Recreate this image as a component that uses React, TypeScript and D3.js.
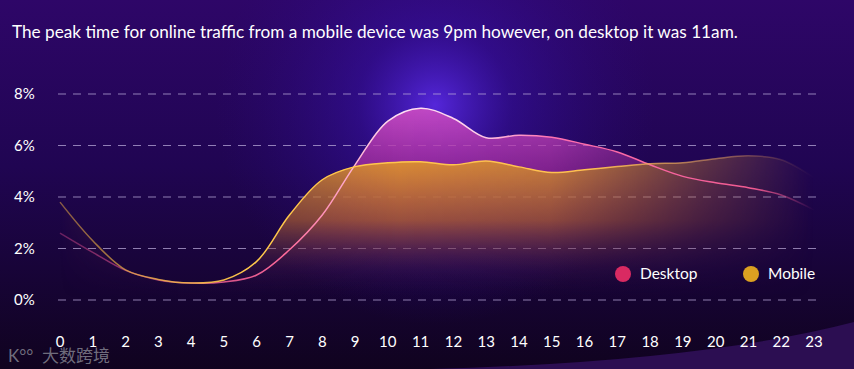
import React from 'react';
import * as d3 from 'd3';

// hours 0..23
const hours = d3.range(0, 24);
const desktop = [2.6, 1.85, 1.15, 0.78, 0.66, 0.7, 0.97, 1.95, 3.3, 5.25, 6.95, 7.45, 7.05, 6.3, 6.4, 6.32, 6.05, 5.75, 5.25, 4.8, 4.55, 4.36, 4.08, 3.5];
const mobile = [3.8, 2.3, 1.17, 0.8, 0.66, 0.78, 1.5, 3.3, 4.67, 5.18, 5.33, 5.37, 5.25, 5.4, 5.17, 4.95, 5.06, 5.18, 5.29, 5.33, 5.49, 5.6, 5.45, 4.75];
const yTicks = [0, 2, 4, 6, 8];
const title = 'The peak time for online traffic from a mobile device was 9pm however, on desktop it was 11am.';
const legendItems = [
  { name: 'Desktop', color: '#d92a62' },
  { name: 'Mobile', color: '#dba021' },
];

const W = 854;
const H = 369;
const FONT = 'Lato, "Open Sans", sans-serif';

const App: React.FC = () => {
  const x = d3.scaleLinear().domain([0, 23]).range([60, 814]);
  const y = d3.scaleLinear().domain([0, 8]).range([300, 94]);

  const curve = d3.curveCatmullRom.alpha(0.5);
  const line = d3.line<number>().x((_, i) => x(hours[i])).y(d => y(d)).curve(curve);
  const area = d3.area<number>().x((_, i) => x(hours[i])).y0(y(-0.6)).y1(d => y(d)).curve(curve);

  return (
    <svg width={W} height={H} style={{ display: 'block' }}>
      <style>{`body{margin:0}`}</style>
      <defs>
        <linearGradient id="bg" x1="0" x2="0" y1="0" y2="1">
          <stop offset="0%" stopColor="#2e0668" />
          <stop offset="45%" stopColor="#200552" />
          <stop offset="100%" stopColor="#10031f" />
        </linearGradient>
        <radialGradient id="glow" cx="435" cy="105" r="220" gradientUnits="userSpaceOnUse">
          <stop offset="0%" stopColor="#5a2ae8" stopOpacity={0.9} />
          <stop offset="35%" stopColor="#3a14b8" stopOpacity={0.45} />
          <stop offset="100%" stopColor="#2a0a80" stopOpacity={0} />
        </radialGradient>
        <linearGradient id="deskFill" x1="0" x2="0" y1="100" y2="300" gradientUnits="userSpaceOnUse">
          <stop offset="0%" stopColor="#d050c8" stopOpacity={0.95} />
          <stop offset="40%" stopColor="#a02898" stopOpacity={0.75} />
          <stop offset="85%" stopColor="#3a0a50" stopOpacity={0.1} />
          <stop offset="100%" stopColor="#200540" stopOpacity={0} />
        </linearGradient>
        <linearGradient id="mobFill" x1="0" x2="0" y1="155" y2="300" gradientUnits="userSpaceOnUse">
          <stop offset="0%" stopColor="#e2962e" stopOpacity={0.97} />
          <stop offset="45%" stopColor="#b4642e" stopOpacity={0.75} />
          <stop offset="80%" stopColor="#502050" stopOpacity={0.25} />
          <stop offset="100%" stopColor="#200540" stopOpacity={0} />
        </linearGradient>
        <linearGradient id="hFade" x1="60" x2="814" y1="0" y2="0" gradientUnits="userSpaceOnUse">
          <stop offset="0%" stopColor="#fff" stopOpacity={0} />
          <stop offset="25%" stopColor="#fff" stopOpacity={0.8} />
          <stop offset="45%" stopColor="#fff" stopOpacity={1} />
          <stop offset="65%" stopColor="#fff" stopOpacity={0.9} />
          <stop offset="85%" stopColor="#fff" stopOpacity={0.35} />
          <stop offset="100%" stopColor="#fff" stopOpacity={0} />
        </linearGradient>
        <mask id="areaMask">
          <rect x={0} y={0} width={W} height={H} fill="url(#hFade)" />
        </mask>
        <linearGradient id="deskStroke" x1="60" x2="814" y1="0" y2="0" gradientUnits="userSpaceOnUse">
          <stop offset="0%" stopColor="#e04a90" stopOpacity={0.4} />
          <stop offset="30%" stopColor="#ff6a9a" />
          <stop offset="45%" stopColor="#ffe0f4" />
          <stop offset="55%" stopColor="#ffd0ea" />
          <stop offset="65%" stopColor="#ff70b0" />
          <stop offset="92%" stopColor="#f05a90" />
          <stop offset="100%" stopColor="#e04a90" stopOpacity={0} />
        </linearGradient>
        <linearGradient id="mobStroke" x1="60" x2="814" y1="0" y2="0" gradientUnits="userSpaceOnUse">
          <stop offset="0%" stopColor="#f0b040" stopOpacity={0.5} />
          <stop offset="25%" stopColor="#ffc84a" />
          <stop offset="70%" stopColor="#ffc050" />
          <stop offset="88%" stopColor="#d09060" stopOpacity={0.6} />
          <stop offset="100%" stopColor="#b07060" stopOpacity={0} />
        </linearGradient>
      </defs>

      {/* background */}
      <rect x={0} y={0} width={W} height={H} fill="url(#bg)" />
      <rect x={0} y={0} width={W} height={H} fill="url(#glow)" />
      <path d="M 430 369 Q 700 362 854 322 L 854 369 Z" fill="#2c0e52" />

      <text x={12} y={38} fill="#ffffff" fontFamily={FONT} fontSize={17.2}>{title}</text>

      {/* grid */}
      {yTicks.map(t => (
        <g key={t}>
          <line x1={58} x2={822} y1={y(t)} y2={y(t)} stroke="#b8a8d8" strokeOpacity={0.75} strokeDasharray="8 7" />
          <text x={14} y={y(t) + 5} fill="#ffffff" fontFamily={FONT} fontSize={15}>{t}%</text>
        </g>
      ))}

      {/* areas */}
      <g mask="url(#areaMask)">
        <path d={area(desktop) || ''} fill="url(#deskFill)" />
        <path d={area(mobile) || ''} fill="url(#mobFill)" />
      </g>
      <path d={line(desktop) || ''} fill="none" stroke="url(#deskStroke)" strokeWidth={1.5} />
      <path d={line(mobile) || ''} fill="none" stroke="url(#mobStroke)" strokeWidth={1.5} />

      {/* x labels */}
      {hours.map(h => (
        <text key={h} x={x(h)} y={347} fill="#ffffff" textAnchor="middle" fontFamily={FONT} fontSize={15}>{h}</text>
      ))}

      {/* legend */}
      {legendItems.map((d, i) => (
        <g key={d.name} transform={`translate(${623 + i * 128},274)`}>
          <circle r={8} fill={d.color} />
          <text x={17} y={5} fill="#ffffff" fontFamily={FONT} fontSize={15.5}>{d.name}</text>
        </g>
      ))}

      {/* watermark */}
      <text x={8} y={362} fill="#8a8a96" fillOpacity={0.8} fontFamily={FONT} fontSize={17}>K°°</text>
      <text x={42} y={362} fill="#8a8a96" fillOpacity={0.8} fontFamily='"Noto Sans CJK SC", sans-serif' fontSize={17}>大数跨境</text>
    </svg>
  );
};

export default App;
